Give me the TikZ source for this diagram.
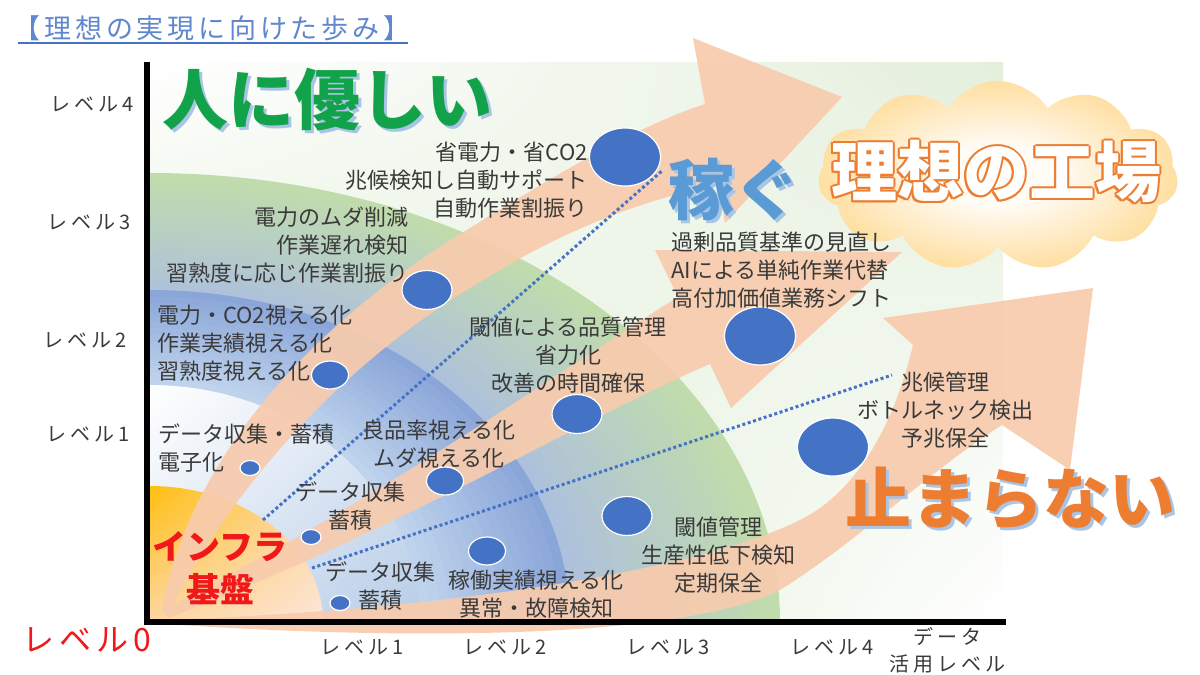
\documentclass[tikz,border=0pt]{standalone}
\usepackage{fontspec}
\setmainfont{Noto Sans CJK JP}
\newfontfamily\jpspaced{Noto Sans CJK JP}[LetterSpace=10]
\usetikzlibrary{shapes.geometric,shapes.symbols,shadings}

\definecolor{peach}{HTML}{F8CBAD}
\definecolor{dotblue}{HTML}{4472C4}
\definecolor{txtgray}{HTML}{3A3A3A}
\definecolor{bggreen}{HTML}{D2E6C4}
\definecolor{bgpale}{HTML}{E4EFDC}
\definecolor{lvthreein}{HTML}{AEC1DC}
\definecolor{lvthreeout}{HTML}{C1DCAC}
\definecolor{lvtwoin}{HTML}{C3D6EE}
\definecolor{lvtwoout}{HTML}{8AA6D9}
\definecolor{lvone}{HTML}{B7CDE8}
\definecolor{lvonemid}{HTML}{DCE6F3}
\definecolor{infraorange}{HTML}{FFBF10}
\definecolor{infrainner}{HTML}{FDD6A2}
\definecolor{infrapeach}{HTML}{FCE6D8}
\definecolor{kindgreen}{HTML}{12A34A}
\definecolor{earnblue}{HTML}{5B9BD5}
\definecolor{stoporange}{HTML}{ED7D31}
\definecolor{shadowblue}{HTML}{A9C4E4}
\definecolor{cloudin}{HTML}{FFFBF5}
\definecolor{cloudout}{HTML}{FFC34E}
\definecolor{levelred}{HTML}{F01818}

\pgfdeclareradialshading{cloudshade}{\pgfpointorigin}{color(0bp)=(cloudin); color(8bp)=(cloudin); color(42bp)=(cloudout); color(50bp)=(cloudout)}

\begin{document}
\begin{tikzpicture}[x=1pt, y=-1pt,
  body/.style={font=\fontsize{22}{28}\selectfont, text=txtgray, inner sep=0pt},
  lvlabel/.style={font=\jpspaced\fontsize{20}{27}\selectfont\addfontfeature{LetterSpace=20}, text=txtgray, inner sep=0pt},
  levdot/.style={ellipse, fill=dotblue, draw=white, line width=1.2pt, inner sep=0pt},
  dotline/.style={dotblue, line width=3pt, dash pattern=on 3pt off 2.6pt},
  band/.style={fill=peach, opacity=.92},
  bigword/.style={font=\fontsize{66}{72}\selectfont\bfseries, inner sep=0pt}]
  \useasboundingbox (0,0) rectangle (1200,675);

  % levels
  \begin{scope}
    \clip (150,62) rectangle (1003,622);
    \shade[upper left=white, upper right=bgpale, lower left=bggreen, lower right=white] (150,62) rectangle (1003,622);
    \foreach \k in {0,...,20} {
      \pgfmathsetmacro\rx{630-10*\k}
      \pgfmathsetmacro\ry{449-5.85*\k}
      \pgfmathsetmacro\p{5*\k}
      \fill[lvthreein!\p!lvthreeout] (150,622) ellipse [x radius=\rx pt, y radius=\ry pt];
    }
    \foreach \k in {0,...,15} {
      \pgfmathsetmacro\rx{420-10*\k}
      \pgfmathsetmacro\ry{332-6.33*\k}
      \pgfmathsetmacro\p{6.667*\k}
      \fill[lvtwoin!\p!lvtwoout] (150,622) ellipse [x radius=\rx pt, y radius=\ry pt];
    }
    \begin{scope}
      \clip (150,622) ellipse [x radius=270pt, y radius=237pt];
      \shade[upper left=white, upper right=lvonemid, lower left=lvonemid, lower right=lvone] (150,385) rectangle (420,622);
    \end{scope}
    \begin{scope}
      \clip (150,622) ellipse [x radius=173pt, y radius=136pt];
      \shade[upper left=infraorange, upper right=infrainner, lower left=infrainner, lower right=infrapeach] (150,486) rectangle (323,622);
    \end{scope}
  \end{scope}

  % arrows
  \fill[band] (162,612) .. controls (185,470) and (300,330) .. (470,228)
    .. controls (560,172) and (640,125) .. (705,104)
    -- (693,38) -- (842,97) -- (725,223) -- (718,185)
    .. controls (640,200) and (560,232) .. (480,282)
    .. controls (360,352) and (240,470) .. (168,615) -- cycle;
  \fill[band] (162,610) .. controls (380,500) and (560,370) .. (678,297)
    -- (655,250) -- (902,252) -- (731,408) -- (710,364)
    .. controls (580,420) and (400,530) .. (168,618) -- cycle;
  \fill[band] (160,620) .. controls (450,610) and (700,570) .. (800,520)
    .. controls (860,490) and (895,420) .. (913,345)
    -- (883,318) -- (1093,288) -- (1070,470) -- (1002,425)
    .. controls (930,470) and (860,540) .. (780,590)
    .. controls (680,640) and (400,640) .. (165,624) -- cycle;

  % axes
  \draw[line width=6pt] (147,62) -- (147,622) -- (1006,622);

  % dotted guides
  \coordinate (ga) at (263,520);
  \coordinate (gb) at (663,170);
  \coordinate (gc) at (312,568);
  \coordinate (gd) at (892,375);
  \draw[dotline] (ga) -- (gb);
  \draw[dotline] (gc) -- (gd);

  % milestones
  \node[levdot, minimum width=20pt, minimum height=15pt] (c11) at (250,468) {};
  \node[levdot, minimum width=37pt, minimum height=28pt] (c12) at (330,375) {};
  \node[levdot, minimum width=50pt, minimum height=39pt] (c13) at (427,290) {};
  \node[levdot, minimum width=71pt, minimum height=58pt] (c14) at (625,157) {};
  \node[levdot, minimum width=20pt, minimum height=15pt] (c21) at (311,537) {};
  \node[levdot, minimum width=37pt, minimum height=28pt] (c22) at (445,481) {};
  \node[levdot, minimum width=50pt, minimum height=39pt] (c23) at (577,414) {};
  \node[levdot, minimum width=71pt, minimum height=58pt] (c24) at (760,336) {};
  \node[levdot, minimum width=20pt, minimum height=15pt] (c31) at (340,603) {};
  \node[levdot, minimum width=37pt, minimum height=28pt] (c32) at (487,551) {};
  \node[levdot, minimum width=50pt, minimum height=39pt] (c33) at (627,516) {};
  \node[levdot, minimum width=71pt, minimum height=58pt] (c34) at (833,447) {};

  % cloud
  \node[cloud, cloud puffs=11, cloud puff arc=115, aspect=1.9, minimum width=360pt, minimum height=190pt, shade, shading=cloudshade, inner sep=0pt] (ideal) at (998,176) {};

  % title
  \node[font=\jpspaced\fontsize{27}{30}\selectfont\addfontfeature{LetterSpace=14}, text=dotblue!85, inner sep=0pt] (title) at (212,28) {【理想の実現に向けた歩み】};
  \draw[dotblue, line width=2.5pt] (18,43) -- (408,43);

  % axis labels
  \node[lvlabel] (y4) at (92,104) {レベル4};
  \node[lvlabel] (y3) at (89,222) {レベル3};
  \node[lvlabel] (y2) at (85,340) {レベル2};
  \node[lvlabel] (y1) at (88,434) {レベル1};
  \node[lvlabel] (x1) at (362,647) {レベル1};
  \node[lvlabel] (x2) at (505,647) {レベル2};
  \node[lvlabel] (x3) at (668,647) {レベル3};
  \node[lvlabel] (x4) at (832,647) {レベル4};
  \node[lvlabel, align=center] (xname) at (947,650) {データ\\活用レベル};
  \node[font=\jpspaced\fontsize{32}{36}\selectfont\addfontfeature{LetterSpace=15}, text=levelred, inner sep=0pt] (y0) at (87,640) {レベル0};

  % texts
  \node[body, anchor=west, align=left] (t11) at (158,448) {データ収集・蓄積\\電子化};
  \node[body, anchor=west, align=left] (t12) at (157,343) {電力・CO2視える化\\作業実績視える化\\習熟度視える化};
  \node[body, anchor=east, align=right] (t13) at (409,245) {電力のムダ削減\\作業遅れ検知\\習熟度に応じ作業割振り};
  \node[body, anchor=east, align=right] (t14) at (588,180) {省電力・省CO2\\兆候検知し自動サポート\\自動作業割振り};
  \node[body, align=center] (t21) at (350,506) {データ収集\\蓄積};
  \node[body, align=center] (t22) at (439,444) {良品率視える化\\ムダ視える化};
  \node[body, align=center] (t23) at (568,355) {閾値による品質管理\\省力化\\改善の時間確保};
  \node[body, anchor=west, align=left] (t24) at (671,270) {過剰品質基準の見直し\\AIによる単純作業代替\\高付加価値業務シフト};
  \node[body, align=center] (t31) at (380,586) {データ収集\\蓄積};
  \node[body, align=center] (t32) at (536,594) {稼働実績視える化\\異常・故障検知};
  \node[body, align=center] (t33) at (718,555) {閾値管理\\生産性低下検知\\定期保全};
  \node[body, align=center] (t34) at (945,410) {兆候管理\\ボトルネック検出\\予兆保全};

  % big words
  \node[bigword, text=shadowblue] (kinds) at (330,103) {人に優しい};
  \node[bigword, text=kindgreen] (kind) at (327,100) {人に優しい};
  \node[bigword, text=shadowblue] (earns) at (737,192) {稼ぐ};
  \node[bigword, text=earnblue] (earn) at (734,189) {稼ぐ};
  \node[bigword, text=shadowblue] (stops) at (1013,501) {止まらない};
  \node[bigword, text=stoporange] (stop) at (1010,498) {止まらない};
  \foreach \a in {0,45,...,315}
    \path (996,172) ++(\a:2) node[bigword, text=stoporange] {理想の工場};
  \node[bigword, text=white] (idealtxt) at (996,172) {理想の工場};
  \node[font=\fontsize{34}{43}\selectfont\bfseries, text=levelred, align=center, inner sep=0pt] (infra) at (220,568) {インフラ\\基盤};
\end{tikzpicture}
\end{document}
